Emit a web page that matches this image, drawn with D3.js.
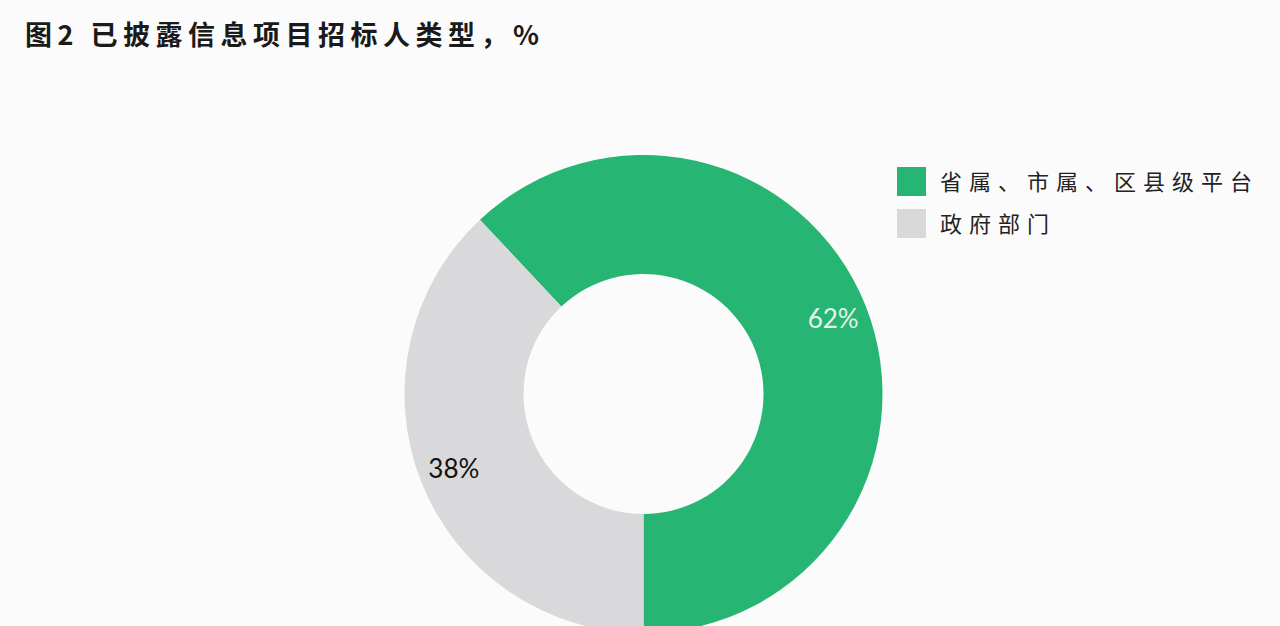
<!DOCTYPE html>
<html>
<head>
<meta charset="utf-8">
<script src="https://cdn.jsdelivr.net/npm/d3@7"></script>
<style>
  html, body { margin: 0; padding: 0; background: #fbfbfb; }
  svg { display: block; }
</style>
</head>
<body>
<div id="plot"></div>
<script>
//data
var categories = ["省属、市属、区县级平台", "政府部门"];
var shares = [62, 38];
var colours = ["#27b574", "#d9d9db"];
var labelColours = ["#e3f6ea", "#111111"];

//setup
var width = 1280,
height = 626;

var Mysvg = d3.select("#plot")
  .append("svg")
  .attr("width", width)
  .attr("height", height);

//title
Mysvg.append("text")
  .attr("x", 25)
  .attr("y", 45)
  .attr("font-family", "Noto Sans CJK SC")
  .attr("font-size", "27px")
  .attr("font-weight", "bold")
  .attr("fill", "#1a1a1a")
  .style("letter-spacing", "5.5px")
  .text("图2 已披露信息项目招标人类型，%");

//donut
var cx = 643.5, cy = 394, outerR = 239, innerR = 120;

// green slice ends at the bottom, grey runs from bottom round the left
var start = Math.PI - 2 * Math.PI * shares[0] / d3.sum(shares);
var pie = d3.pie()
  .sort(null)
  .value(function (d) { return d; })
  .startAngle(start)
  .endAngle(start + 2 * Math.PI);

var arc = d3.arc().innerRadius(innerR).outerRadius(outerR);

var slices = pie(shares);

var g = Mysvg.append("g").attr("transform", "translate(" + cx + "," + cy + ")");

g.selectAll("path")
  .data(slices)
  .enter()
  .append("path")
  .attr("d", arc)
  .attr("fill", function (d, i) { return colours[i]; });

//slice labels, at mid angle near the outer edge
var labelArc = d3.arc().innerRadius(outerR - 35).outerRadius(outerR - 35);
g.selectAll("text.lbl")
  .data(slices)
  .enter()
  .append("text")
  .attr("class", "lbl")
  .attr("transform", function (d) {
    var p = labelArc.centroid(d);
    return "translate(" + p[0] + "," + p[1] + ")";
  })
  .attr("text-anchor", "middle")
  .attr("dy", "0.36em")
  .attr("font-family", "Lato, 'Liberation Sans', sans-serif")
  .attr("font-size", "26px")
  .attr("fill", function (d, i) { return labelColours[i]; })
  .text(function (d) { return d.data + "%"; });

//legend
var legend = Mysvg.append("g").attr("transform", "translate(897,167)");
var rows = legend.selectAll("g")
  .data(categories)
  .enter()
  .append("g")
  .attr("transform", function (d, i) { return "translate(0," + i * 42 + ")"; });

rows.append("rect")
  .attr("width", 29)
  .attr("height", 29)
  .attr("fill", function (d, i) { return colours[i]; });

rows.append("text")
  .attr("x", 43)
  .attr("y", 15)
  .attr("dy", "0.36em")
  .attr("font-family", "Noto Sans CJK SC")
  .attr("font-size", "22px")
  .attr("fill", "#222")
  .style("letter-spacing", "7px")
  .text(function (d) { return d; });
</script>
</body>
</html>
